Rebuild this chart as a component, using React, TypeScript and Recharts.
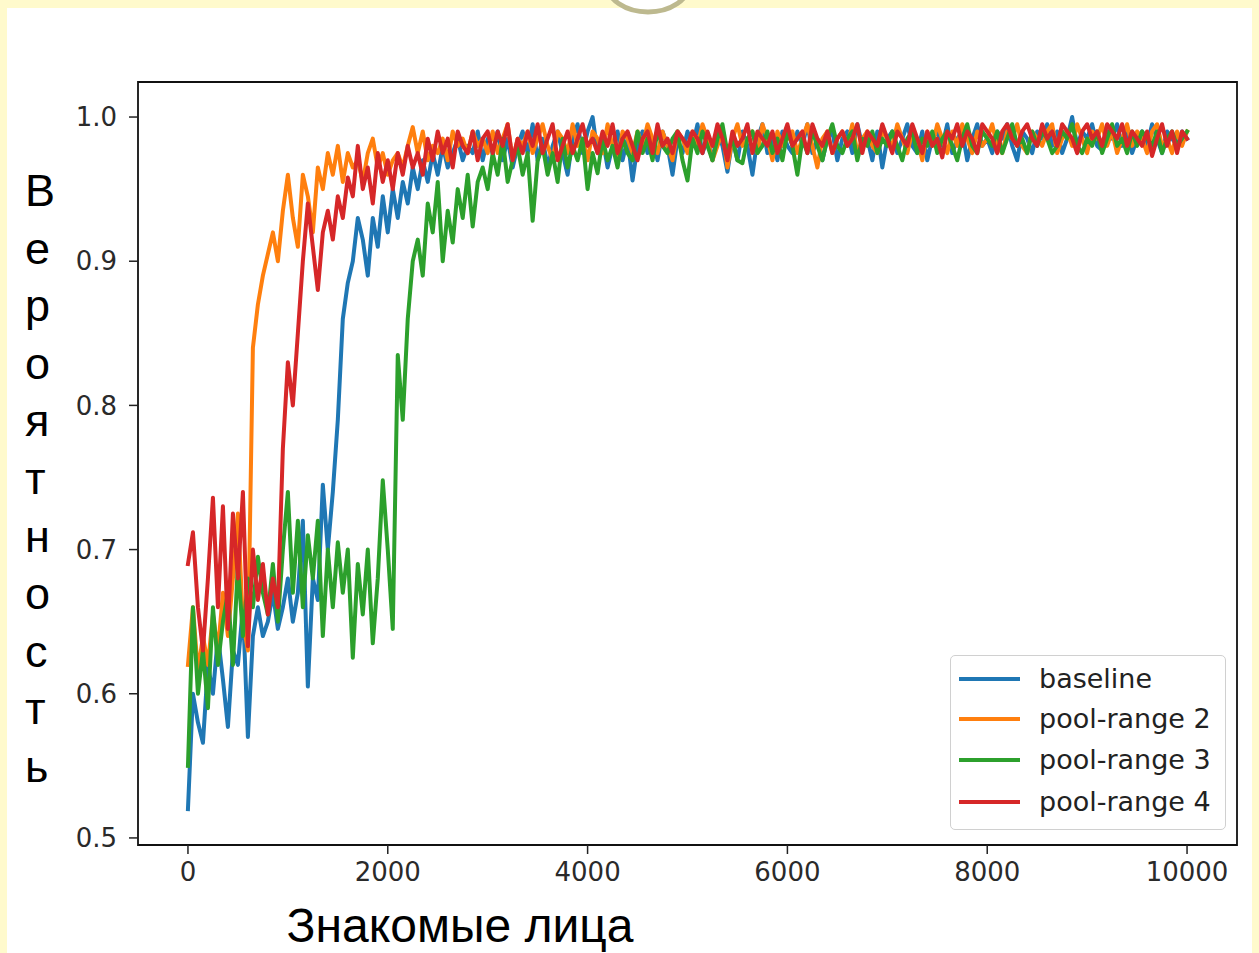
import React from 'react';
import { LineChart, Line, XAxis, YAxis, ReferenceArea } from 'recharts';

// x positions: one sample every 50 faces, 0..10000
const X_STEP = 50;
const X_COUNT = 201;
const X_VALUES = Array.from({ length: X_COUNT }, (_, i) => i * X_STEP);

const BASELINE = [
  0.52, 0.60, 0.58, 0.566, 0.62, 0.60, 0.64, 0.61, 0.577, 0.63,
  0.62, 0.66, 0.57, 0.64, 0.66, 0.64, 0.65, 0.67, 0.645, 0.66,
  0.68, 0.65, 0.67, 0.72, 0.605, 0.68, 0.665, 0.745, 0.70, 0.74,
  0.79, 0.86, 0.885, 0.90, 0.93, 0.915, 0.89, 0.93, 0.91, 0.945,
  0.92, 0.95, 0.93, 0.955, 0.94, 0.965, 0.95, 0.97, 0.955, 0.975,
  0.96, 0.98, 0.965, 0.975, 0.985, 0.97, 0.98, 0.975, 0.99, 0.97,
  0.985, 0.975, 0.99, 0.97, 0.985, 0.965, 0.98, 0.99, 0.975, 0.995,
  0.97, 0.985, 0.965, 0.98, 0.99, 0.975, 0.96, 0.985, 0.995, 0.975,
  0.99, 1.0, 0.975, 0.985, 0.965, 0.98, 0.99, 0.97, 0.985, 0.956,
  0.98, 0.99, 0.975, 0.985, 0.97, 0.99, 0.98, 0.96, 0.985, 0.975,
  0.99, 0.98, 0.995, 0.975, 0.985, 0.97, 0.99, 0.98, 0.962, 0.985,
  0.97, 0.99, 0.98, 0.96, 0.985, 0.995, 0.975, 0.985, 0.97, 0.99,
  0.98, 0.975, 0.99, 0.98, 0.995, 0.975, 0.985, 0.97, 0.985, 0.99,
  0.97, 0.985, 0.99, 0.975, 0.995, 0.98, 0.985, 0.97, 0.99, 0.965,
  0.985, 0.99, 0.975, 0.985, 0.995, 0.98, 0.975, 0.99, 0.97, 0.985,
  0.99, 0.98, 0.995, 0.975, 0.985, 0.99, 0.97, 0.985, 0.995, 0.98,
  0.985, 0.975, 0.99, 0.985, 0.995, 0.98, 0.97, 0.99, 0.985, 0.975,
  0.99, 0.985, 0.995, 0.98, 0.99, 0.975, 0.985, 1.0, 0.98, 0.99,
  0.985, 0.995, 0.98, 0.977, 0.99, 0.985, 0.995, 0.98, 0.99, 0.975,
  0.985, 0.99, 0.98, 0.995, 0.985, 0.975, 0.99, 0.985, 0.98, 0.99,
  0.985,
];

const POOL_RANGE_2 = [
  0.62, 0.66, 0.615, 0.64, 0.62, 0.655, 0.63, 0.67, 0.64, 0.68,
  0.725, 0.65, 0.63, 0.84, 0.87, 0.89, 0.905, 0.92, 0.90, 0.935,
  0.96, 0.93, 0.91, 0.96, 0.945, 0.92, 0.965, 0.95, 0.975, 0.96,
  0.98, 0.955, 0.975, 0.965, 0.97, 0.955, 0.975, 0.985, 0.965, 0.975,
  0.96, 0.97, 0.975, 0.965, 0.98, 0.993, 0.975, 0.99, 0.97, 0.98,
  0.975, 0.985, 0.97, 0.99, 0.98, 0.985, 0.975, 0.99, 0.98, 0.985,
  0.975, 0.99, 0.975, 0.985, 0.995, 0.97, 0.985, 0.98, 0.99, 0.975,
  0.985, 0.995, 0.98, 0.97, 0.99, 0.985, 0.975, 0.995, 0.98, 0.985,
  0.97, 0.99, 0.985, 0.975, 0.995, 0.98, 0.97, 0.99, 0.985, 0.975,
  0.99, 0.98, 0.995, 0.985, 0.975, 0.99, 0.98, 0.97, 0.99, 0.985,
  0.975, 0.99, 0.98, 0.995, 0.985, 0.97, 0.98, 0.99, 0.965, 0.985,
  0.995, 0.98, 0.985, 0.99, 0.975, 0.995, 0.985, 0.97, 0.99, 0.98,
  0.985, 0.99, 0.975, 0.985, 0.995, 0.98, 0.965, 0.985, 0.99, 0.975,
  0.985, 0.99, 0.98, 0.995, 0.975, 0.985, 0.99, 0.98, 0.975, 0.99,
  0.985, 0.98, 0.995, 0.985, 0.975, 0.99, 0.985, 0.97, 0.99, 0.98,
  0.995, 0.985, 0.975, 0.99, 0.98, 0.995, 0.985, 0.975, 0.99, 0.98,
  0.985, 0.995, 0.98, 0.975, 0.99, 0.985, 0.995, 0.98, 0.975, 0.99,
  0.985, 0.98, 0.99, 0.995, 0.975, 0.985, 0.99, 0.98, 0.995, 0.985,
  0.975, 0.99, 0.985, 0.995, 0.98, 0.99, 0.975, 0.985, 0.995, 0.98,
  0.99, 0.985, 0.975, 0.99, 0.995, 0.98, 0.985, 0.975, 0.99, 0.98,
  0.99,
];

const POOL_RANGE_3 = [
  0.55, 0.66, 0.60, 0.63, 0.59, 0.66, 0.62, 0.65, 0.67, 0.62,
  0.69, 0.64, 0.68, 0.66, 0.695, 0.67, 0.655, 0.69, 0.65, 0.70,
  0.74, 0.67, 0.72, 0.66, 0.71, 0.68, 0.72, 0.64, 0.70, 0.66,
  0.705, 0.67, 0.70, 0.625, 0.69, 0.655, 0.70, 0.635, 0.68, 0.748,
  0.70, 0.645, 0.835, 0.79, 0.86, 0.90, 0.915, 0.89, 0.94, 0.92,
  0.955, 0.90, 0.935, 0.913, 0.95, 0.93, 0.96, 0.924, 0.955, 0.965,
  0.95, 0.975, 0.96, 0.985, 0.955, 0.97, 0.98, 0.96, 0.975, 0.928,
  0.97, 0.98, 0.96, 0.975, 0.955, 0.985, 0.965, 0.98, 0.97, 0.985,
  0.95, 0.975, 0.961, 0.985, 0.97, 0.98, 0.965, 0.985, 0.975, 0.97,
  0.99, 0.975, 0.985, 0.97, 0.99, 0.98, 0.975, 0.985, 0.99, 0.97,
  0.956, 0.985, 0.975, 0.99, 0.98, 0.97, 0.985, 0.995, 0.975, 0.985,
  0.97, 0.968, 0.985, 0.99, 0.975, 0.98, 0.99, 0.975, 0.985, 0.97,
  0.99, 0.98, 0.96, 0.985, 0.975, 0.99, 0.98, 0.97, 0.985, 0.995,
  0.98, 0.975, 0.985, 0.99, 0.97, 0.985, 0.98, 0.99, 0.975, 0.985,
  0.98, 0.99, 0.98, 0.97, 0.985, 0.99, 0.975, 0.985, 0.98, 0.99,
  0.975, 0.985, 0.99, 0.98, 0.97, 0.985, 0.995, 0.98, 0.975, 0.99,
  0.985, 0.98, 0.99, 0.975, 0.985, 0.995, 0.98, 0.985, 0.975, 0.99,
  0.98, 0.99, 0.985, 0.975, 0.98, 0.99, 0.985, 0.995, 0.98, 0.975,
  0.985, 0.98, 0.99, 0.975, 0.985, 0.995, 0.98, 0.985, 0.975, 0.99,
  0.98, 0.99, 0.985, 0.98, 0.99, 0.975, 0.985, 0.99, 0.98, 0.985,
  0.99,
];

const POOL_RANGE_4 = [
  0.69, 0.712, 0.66, 0.63, 0.68, 0.736, 0.66, 0.73, 0.645, 0.725,
  0.68, 0.74, 0.633, 0.70, 0.665, 0.69, 0.655, 0.68, 0.66, 0.77,
  0.83, 0.80, 0.85, 0.90, 0.94, 0.91, 0.88, 0.92, 0.935, 0.915,
  0.945, 0.93, 0.958, 0.945, 0.98, 0.95, 0.965, 0.94, 0.975, 0.955,
  0.97, 0.95, 0.975, 0.96, 0.98, 0.965, 0.975, 0.96, 0.985, 0.97,
  0.99, 0.975, 0.985, 0.965, 0.99, 0.98, 0.975, 0.99, 0.97, 0.985,
  0.99, 0.975, 0.99, 0.98, 0.995, 0.97, 0.985, 0.975, 0.99, 0.98,
  0.995, 0.975, 0.985, 0.995, 0.97, 0.98, 0.99, 0.975, 0.985, 0.995,
  0.98, 0.985, 0.975, 0.99, 0.98, 0.995, 0.975, 0.985, 0.99, 0.98,
  0.97, 0.985, 0.99, 0.975, 0.995, 0.98, 0.985, 0.975, 0.99, 0.985,
  0.98, 0.99, 0.985, 0.975, 0.99, 0.98, 0.995, 0.985, 0.97, 0.99,
  0.98, 0.985, 0.995, 0.975, 0.99, 0.985, 0.98, 0.99, 0.975, 0.985,
  0.995, 0.98, 0.985, 0.99, 0.975, 0.995, 0.985, 0.98, 0.99, 0.975,
  0.985, 0.99, 0.98, 0.985, 0.995, 0.975, 0.99, 0.985, 0.98, 0.995,
  0.985, 0.975, 0.99, 0.985, 0.98, 0.995, 0.985, 0.975, 0.99, 0.98,
  0.985, 0.972, 0.99, 0.985, 0.995, 0.98, 0.99, 0.985, 0.975, 0.995,
  0.99, 0.985, 0.975, 0.99, 0.995, 0.985, 0.98, 0.99, 0.995, 0.985,
  0.98, 0.995, 0.985, 0.99, 0.98, 0.995, 0.99, 0.985, 0.975, 0.99,
  0.995, 0.985, 0.99, 0.98, 0.995, 0.99, 0.985, 0.995, 0.98, 0.99,
  0.985, 0.98, 0.99, 0.973, 0.985, 0.995, 0.98, 0.99, 0.975, 0.99,
  0.985,
];

const X_TICKS = [0, 2000, 4000, 6000, 8000, 10000];
const Y_TICKS = [0.5, 0.6, 0.7, 0.8, 0.9, 1.0];
const X_DOMAIN: [number, number] = [-500, 10500];
const Y_DOMAIN: [number, number] = [0.4951, 1.0243];

const SERIES = [
  { key: 'baseline', name: 'baseline', color: '#1f77b4', values: BASELINE },
  { key: 'pr2', name: 'pool-range 2', color: '#ff7f0e', values: POOL_RANGE_2 },
  { key: 'pr3', name: 'pool-range 3', color: '#2ca02c', values: POOL_RANGE_3 },
  { key: 'pr4', name: 'pool-range 4', color: '#d62728', values: POOL_RANGE_4 },
];

const Y_LABEL = 'Вероятность';
const X_LABEL = 'Знакомые лица';

const DATA = X_VALUES.map((x, i) => {
  const row: Record<string, number> = { x };
  SERIES.forEach((s) => {
    row[s.key] = s.values[i];
  });
  return row;
});

const TICK_STYLE = { fill: '#2a2a2a', fontSize: 26, fontFamily: 'DejaVu Sans' };

export default function App() {
  return (
    <div
      style={{
        position: 'absolute',
        left: 0,
        top: 0,
        width: 1259,
        height: 953,
        background: '#FFFACC',
        overflow: 'hidden',
      }}
    >
      <div
        style={{
          position: 'absolute',
          left: 7,
          top: 8,
          width: 1245,
          height: 945,
          background: '#ffffff',
        }}
      />
      <svg
        width={1259}
        height={60}
        style={{ position: 'absolute', left: 0, top: 0 }}
      >
        <ellipse cx={648} cy={-16} rx={41} ry={28} fill="#ffffff" stroke="#BDB98F" strokeWidth={5} />
      </svg>
      <div style={{ position: 'absolute', left: 0, top: 0 }}>
        <LineChart
          width={1259}
          height={953}
          data={DATA}
          margin={{ top: 82, right: 22, left: 0, bottom: 58 }}
        >
          <XAxis
            dataKey="x"
            type="number"
            domain={X_DOMAIN}
            allowDataOverflow
            ticks={X_TICKS}
            interval={0}
            height={50}
            axisLine={false}
            tickLine={{ stroke: '#222', strokeWidth: 1.5 }}
            tickSize={9}
            tickMargin={9}
            tick={TICK_STYLE}
          />
          <YAxis
            type="number"
            domain={Y_DOMAIN}
            allowDataOverflow
            ticks={Y_TICKS}
            interval={0}
            width={138}
            axisLine={false}
            tickLine={{ stroke: '#222', strokeWidth: 1.5 }}
            tickSize={9}
            tickMargin={12}
            tick={TICK_STYLE}
            tickFormatter={(v: number) => v.toFixed(1)}
          />
          {SERIES.map((s) => (
            <Line
              key={s.key}
              dataKey={s.key}
              name={s.name}
              stroke={s.color}
              strokeWidth={4}
              strokeLinejoin="round"
              strokeLinecap="square"
              dot={false}
              activeDot={false}
              type="linear"
              isAnimationActive={false}
            />
          ))}
          <ReferenceArea
            x1={X_DOMAIN[0]}
            x2={X_DOMAIN[1]}
            y1={Y_DOMAIN[0]}
            y2={Y_DOMAIN[1]}
            fill="none"
            fillOpacity={0}
            stroke="#111"
            strokeWidth={1.8}
          />
        </LineChart>
      </div>
      {/* legend */}
      <div
        style={{
          position: 'absolute',
          left: 950,
          top: 655,
          width: 276,
          height: 175,
          border: '1.5px solid #d0d0d0',
          borderRadius: 5,
          background: 'rgba(255,255,255,0.9)',
          boxSizing: 'border-box',
        }}
      >
        {SERIES.map((s, i) => (
          <div
            key={s.key}
            style={{
              position: 'absolute',
              left: 0,
              top: [23, 63, 104, 146][i] - 20,
              height: 40,
              width: 274,
              display: 'flex',
              alignItems: 'center',
            }}
          >
            <div
              style={{
                marginLeft: 8,
                width: 61,
                height: 4,
                background: s.color,
              }}
            />
            <span
              style={{
                marginLeft: 19,
                fontFamily: 'DejaVu Sans',
                fontSize: 27,
                color: '#222',
                lineHeight: '40px',
              }}
            >
              {s.name}
            </span>
          </div>
        ))}
      </div>
      {/* y label: one letter per line */}
      <div
        style={{
          position: 'absolute',
          left: 25,
          top: 162,
          fontFamily: 'Liberation Sans, Arial, sans-serif',
          fontSize: 45,
          lineHeight: '57.6px',
          color: '#000',
        }}
      >
        {Array.from(Y_LABEL).map((ch, i) => (
          <div key={i}>{ch}</div>
        ))}
      </div>
      {/* x label */}
      <div
        style={{
          position: 'absolute',
          left: 210,
          top: 902,
          width: 500,
          textAlign: 'center',
          fontFamily: 'Liberation Sans, Arial, sans-serif',
          fontSize: 48,
          lineHeight: '48px',
          color: '#000',
          whiteSpace: 'nowrap',
        }}
      >
        {X_LABEL}
      </div>
    </div>
  );
}
